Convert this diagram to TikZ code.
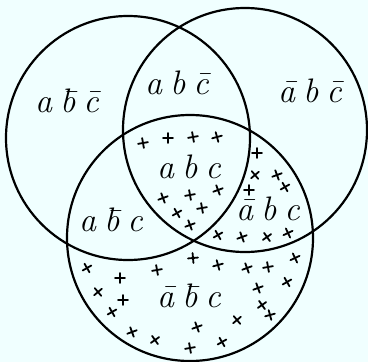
\documentclass[tikz,border=0pt]{standalone}
\usepackage{xcolor}
\definecolor{paleblue}{RGB}{240,255,255}
\newcommand{\trio}[3]{#1\hspace{8pt}#2\hspace{8pt}#3}

\begin{document}
\begin{tikzpicture}[x=1pt, y=-1pt,
    ring/.style={line width=2.2pt},
    tag/.style={font=\fontsize{34}{38}\selectfont\itshape, inner sep=0pt},
    crs/.style={line width=1.8pt, line cap=round}]
    \fill[paleblue] (0,0) rectangle (368,362);
    \useasboundingbox (0,0) rectangle (368,362);
    % circles a, b, c
    \coordinate (A) at (128,138);
    \coordinate (B) at (245,130);
    \coordinate (C) at (190,238);
    \draw[ring] (A) circle[radius=122pt];
    \draw[ring] (B) circle[radius=122pt];
    \draw[ring] (C) circle[radius=123pt];
    % region labels
    \node[tag] (anbnc) at (67,101) {\trio{a}{\=b}{\=c}};
    \node[tag] (abnc) at (177,83) {\trio{a}{b}{\=c}};
    \node[tag] (nabnc) at (310,91) {\trio{\=a}{b}{\=c}};
    \node[tag] (abc) at (189,167) {\trio{a}{b}{c}};
    \node[tag] (anbc) at (111,220) {\trio{a}{\=b}{c}};
    \node[tag] (nabc) at (268,209) {\trio{\=a}{b}{c}};
    \node[tag] (nanbc) at (189,296) {\trio{\=a}{\=b}{c}};
    % crosses
    \foreach \px/\py/\rt in {143/143/10, 168/138/0, 193/137/10, 217/137/15,
        163/198/20, 190/195/10, 218/190/20, 177/213/30, 202/208/10, 190/225/20,
        257/153/0, 255/175/40, 277/175/20, 285/187/30, 249/190/0,
        218/235/30, 242/237/20, 267/237/35, 288/233/25,
        87/268/30, 120/278/0, 157/270/10, 98/292/40, 123/300/0, 112/312/30,
        132/332/20, 155/340/35, 190/348/10, 193/258/5, 218/265/15, 247/268/20,
        268/267/10, 295/258/25, 287/282/30, 258/288/20, 262/305/35, 270/315/15,
        237/320/40, 197/327/20, 222/342/30}
      \draw[crs, shift={(\px,\py)}, rotate=\rt] (-5,0) -- (5,0) (0,-5) -- (0,5);
\end{tikzpicture}
\end{document}
